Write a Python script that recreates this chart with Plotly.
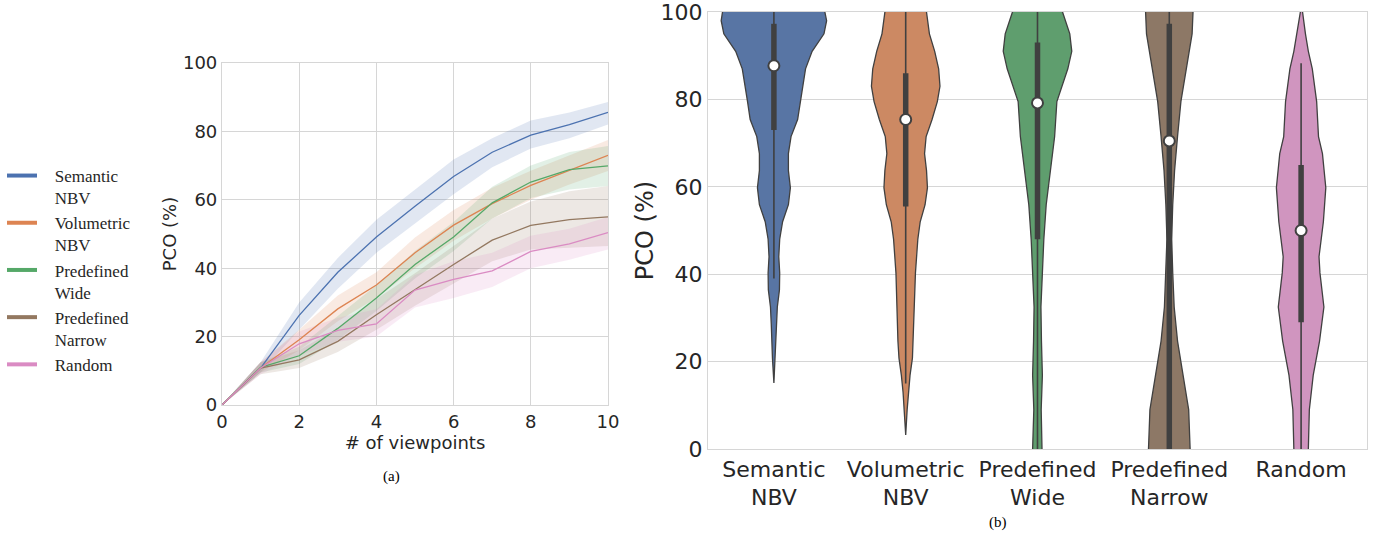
import plotly.graph_objects as go

# ---------------- data: panel (a) ----------------
viewpoints = list(range(11))
methods = ["Semantic NBV", "Volumetric NBV", "Predefined Wide", "Predefined Narrow", "Random"]
legend_labels = ["Semantic<br>NBV", "Volumetric<br>NBV", "Predefined<br>Wide", "Predefined<br>Narrow", "Random"]

sem_mean = [0, 10.8, 26.2, 38.8, 49.1, 58.1, 66.8, 73.9, 78.9, 82.0, 85.6]
sem_lo = [0, 9.5, 22.0, 34.0, 44.5, 53.0, 61.6, 69.5, 75.0, 78.0, 82.0]
sem_hi = [0, 12.5, 30.0, 43.0, 54.2, 63.0, 71.8, 78.0, 83.2, 85.5, 88.6]

vol_mean = [0, 10.8, 19.1, 28.1, 35.1, 44.5, 52.6, 58.9, 64.2, 68.7, 73.0]
vol_lo = [0, 9.5, 16.0, 24.5, 31.3, 40.0, 48.0, 54.5, 60.0, 64.5, 68.4]
vol_hi = [0, 12.5, 22.0, 32.0, 38.8, 49.0, 57.0, 63.5, 68.5, 73.0, 77.5]

wide_mean = [0, 11.0, 14.4, 22.4, 31.3, 41.1, 49.1, 59.1, 65.2, 68.8, 69.9]
wide_lo = [0, 9.5, 12.0, 19.0, 27.5, 37.0, 45.0, 54.5, 60.5, 63.0, 64.0]
wide_hi = [0, 12.5, 17.0, 26.0, 35.0, 45.0, 53.5, 63.8, 70.0, 74.0, 75.7]

narrow_mean = [0, 10.8, 13.2, 18.6, 26.4, 33.8, 41.1, 48.2, 52.5, 54.2, 55.0]
narrow_lo = [0, 9.0, 10.8, 15.5, 22.0, 29.0, 35.5, 42.0, 45.5, 46.0, 46.5]
narrow_hi = [0, 12.5, 16.0, 22.5, 31.0, 38.5, 46.5, 54.5, 59.5, 62.5, 64.0]

rand_mean = [0, 10.8, 17.9, 21.8, 23.7, 33.6, 36.7, 39.2, 44.9, 47.1, 50.4]
rand_lo = [0, 9.0, 14.5, 18.5, 20.0, 28.5, 31.3, 34.5, 40.0, 42.5, 45.5]
rand_hi = [0, 12.5, 21.5, 25.5, 28.0, 38.0, 42.0, 44.5, 49.5, 51.5, 55.0]

# ---------------- data: panel (b) violin density profiles ----------------
category_labels = ["Semantic<br>NBV", "Volumetric<br>NBV", "Predefined<br>Wide", "Predefined<br>Narrow", "Random"]

sem_vy = [104, 100, 98, 95, 91, 87, 83, 79.5, 75.4, 71.5, 67.6, 63.7, 59.8, 55.9, 52, 48, 44, 40.3, 36.4, 32.5, 28.6, 24.7, 20.8, 15.1]
sem_vw = [0.36, 0.39, 0.40, 0.38, 0.29, 0.24, 0.22, 0.20, 0.18, 0.13, 0.11, 0.11, 0.125, 0.11, 0.066, 0.044, 0.037, 0.044, 0.042, 0.026, 0.02, 0.013, 0.011, 0.0]

vol_vy = [104, 100, 95, 91, 87, 83, 79.5, 75.4, 71.5, 67.6, 63.7, 59.8, 55.9, 52, 48, 40.3, 32.5, 24.7, 20.8, 16.9, 13, 9, 3.2]
vol_vw = [0.14, 0.16, 0.18, 0.22, 0.25, 0.26, 0.24, 0.20, 0.155, 0.143, 0.158, 0.165, 0.147, 0.11, 0.092, 0.074, 0.066, 0.059, 0.051, 0.033, 0.02, 0.011, 0.0]

wide_vy = [104, 100, 95, 91, 87, 83, 79.5, 71.5, 63.7, 55.9, 48, 40.3, 32.5, 24.7, 16.9, 9, 0, -4]
wide_vw = [0.165, 0.19, 0.245, 0.26, 0.23, 0.185, 0.147, 0.13, 0.096, 0.066, 0.048, 0.037, 0.026, 0.03, 0.037, 0.028, 0.037, 0.037]

narrow_vy = [104, 100, 95, 91, 87, 79.5, 71.5, 63.7, 55.9, 48, 40.3, 32.5, 24.7, 16.9, 9, 0, -4]
narrow_vw = [0.176, 0.18, 0.173, 0.15, 0.129, 0.088, 0.0625, 0.04, 0.026, 0.018, 0.026, 0.037, 0.0625, 0.103, 0.147, 0.158, 0.158]

rand_vy = [101, 100, 95, 91, 87, 83, 79.5, 71.5, 67.6, 59.8, 52, 44, 40.3, 32.5, 24.7, 16.9, 9, 0, -4]
rand_vw = [0.0, 0.011, 0.033, 0.055, 0.085, 0.103, 0.118, 0.132, 0.162, 0.1875, 0.169, 0.136, 0.143, 0.173, 0.14, 0.092, 0.0625, 0.055, 0.055]

box_q1 = [73.0, 55.5, 48.0, 0.0, 29.0]
box_q3 = [97.3, 86.0, 93.0, 97.3, 65.0]
box_median = [87.7, 75.4, 79.2, 70.5, 50.0]
whisker_lo = [39.0, 15.0, 0.0, 0.0, 0.0]
whisker_hi = [100.0, 100.0, 100.0, 100.0, 88.3]

# ---------------- styles ----------------
line_colors = ["#4C72B0", "#DD8452", "#55A868", "#937860", "#DA8BC3"]
band_colors = ["rgba(76,114,176,0.17)", "rgba(221,132,82,0.17)", "rgba(85,168,104,0.17)",
               "rgba(147,120,96,0.17)", "rgba(218,139,195,0.17)"]
violin_colors = ["#5875A4", "#CC8963", "#5F9E6E", "#8D7866", "#D095BF"]
dark = "#404040"
text_color = "#262626"
grid_color = "#d6d6d6"

means = [sem_mean, vol_mean, wide_mean, narrow_mean, rand_mean]
los = [sem_lo, vol_lo, wide_lo, narrow_lo, rand_lo]
his = [sem_hi, vol_hi, wide_hi, narrow_hi, rand_hi]
vys = [sem_vy, vol_vy, wide_vy, narrow_vy, rand_vy]
vws = [sem_vw, vol_vw, wide_vw, narrow_vw, rand_vw]

fig = go.Figure()

# bands + lines (panel a)
for i in range(5):
    fig.add_trace(go.Scatter(x=viewpoints + viewpoints[::-1], y=his[i] + los[i][::-1],
                             fill="toself", fillcolor=band_colors[i], line=dict(width=0),
                             mode="lines", showlegend=False, hoverinfo="skip",
                             xaxis="x", yaxis="y"))
for i in range(5):
    fig.add_trace(go.Scatter(x=viewpoints, y=means[i], mode="lines",
                             line=dict(color=line_colors[i], width=1.3),
                             name=methods[i], showlegend=False, xaxis="x", yaxis="y"))
# legend entries (thick lines)
pad = "\u00a0\u00a0\u00a0"
for i in range(5):
    label = "<br>".join(pad + part for part in legend_labels[i].split("<br>"))
    fig.add_trace(go.Scatter(x=[None], y=[None], mode="lines",
                             line=dict(color=line_colors[i], width=4),
                             name=label, showlegend=True, xaxis="x", yaxis="y"))

# violins (panel b)
for i in range(5):
    vy = vys[i]
    vw = vws[i]
    xs = [i + w for w in vw] + [i - w for w in vw[::-1]]
    ys = vy + vy[::-1]
    fig.add_trace(go.Scatter(x=xs, y=ys, fill="toself", fillcolor=violin_colors[i],
                             mode="lines", line=dict(color=dark, width=1.3),
                             showlegend=False, hoverinfo="skip", xaxis="x2", yaxis="y2"))
    fig.add_trace(go.Scatter(x=[i, i], y=[whisker_lo[i], whisker_hi[i]], mode="lines",
                             line=dict(color=dark, width=1.6), showlegend=False,
                             xaxis="x2", yaxis="y2"))
    fig.add_trace(go.Scatter(x=[i, i], y=[box_q1[i], box_q3[i]], mode="lines",
                             line=dict(color=dark, width=5.5), showlegend=False,
                             xaxis="x2", yaxis="y2"))
    fig.add_trace(go.Scatter(x=[i], y=[box_median[i]], mode="markers",
                             marker=dict(color="white", size=11, line=dict(color=dark, width=2)),
                             showlegend=False, xaxis="x2", yaxis="y2", cliponaxis=False))

W, H = 1384, 535
axis_common = dict(showline=True, linecolor=grid_color, linewidth=1.2, mirror=True,
                   zeroline=False, gridcolor=grid_color, gridwidth=1.2, ticks="",
                   fixedrange=True, automargin=False, ticklabeloverflow="allow")

fig.update_layout(
    width=W, height=H,
    margin=dict(l=0, r=0, t=0, b=0, autoexpand=False),
    paper_bgcolor="white", plot_bgcolor="white",
    font=dict(family="DejaVu Sans", color=text_color),
    xaxis=dict(domain=[222 / W, 608 / W], range=[0, 10], tickvals=[0, 2, 4, 6, 8, 10],
               showgrid=True, tickfont=dict(size=18),
               title=dict(text="# of viewpoints", font=dict(size=18), standoff=0),
               anchor="y", **axis_common),
    yaxis=dict(domain=[1 - 405 / H, 1 - 63 / H], range=[0, 100], tickvals=[0, 20, 40, 60, 80, 100],
               showgrid=True, tickfont=dict(size=18),
               title=dict(text="PCO (%)", font=dict(size=18), standoff=1),
               anchor="x", **axis_common),
    xaxis2=dict(domain=[708 / W, 1367 / W], range=[-0.5, 4.5], tickvals=[0, 1, 2, 3, 4],
                ticktext=category_labels, showgrid=False, tickfont=dict(size=22),
                anchor="y2", **axis_common),
    yaxis2=dict(domain=[1 - 449 / H, 1 - 12 / H], range=[0, 100], tickvals=[0, 20, 40, 60, 80, 100],
                showgrid=True, tickfont=dict(size=22),
                title=dict(text="PCO (%)", font=dict(size=24), standoff=0),
                anchor="x2", **axis_common),
    legend=dict(x=2 / W, y=1 - 158 / H, xanchor="left", yanchor="top", valign="top",
                font=dict(family="Liberation Serif", size=17, color=text_color),
                bgcolor="rgba(0,0,0,0)", tracegroupgap=0, itemwidth=30),
    annotations=[
        dict(text="(a)", x=391 / W, y=1 - 476 / H, xref="paper", yref="paper",
             xanchor="center", yanchor="middle",
             showarrow=False, font=dict(family="Liberation Serif", size=15, color="black")),
        dict(text="(b)", x=998 / W, y=1 - 522 / H, xref="paper", yref="paper",
             xanchor="center", yanchor="middle",
             showarrow=False, font=dict(family="Liberation Serif", size=15, color="black")),
    ],
)

fig.write_html("out.html")
